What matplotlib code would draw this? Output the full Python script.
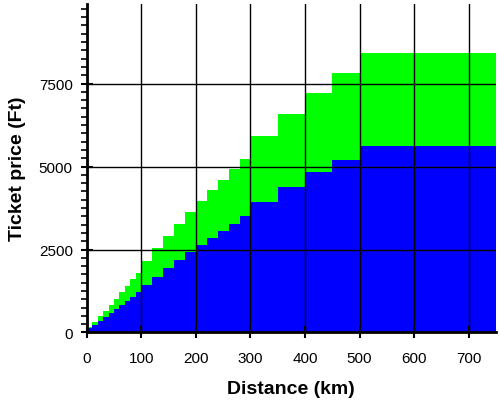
import matplotlib
matplotlib.use("Agg")
import matplotlib.pyplot as plt
from matplotlib.ticker import MultipleLocator

# Distance band edges (km)
edges = [0, 10, 20, 30, 40, 50, 60, 70, 80, 90, 100,
         120, 140, 160, 180, 200, 220, 240, 260, 280, 300,
         350, 400, 450, 500, 750]
# 1st class ticket price (Ft)
first_class = [175, 308, 489, 640, 830, 1011, 1213, 1413, 1615, 1796,
               2168, 2550, 2913, 3275, 3637, 3974, 4306, 4608, 4935, 5237,
               5911, 6595, 7215, 7833, 8436]
# 2nd class ticket price (Ft)
second_class = [127, 235, 338, 459, 580, 709, 830, 960, 1081, 1213,
                1434, 1685, 1947, 2188, 2440, 2641, 2848, 3060, 3275, 3496,
                3939, 4392, 4825, 5207, 5629]

plt.rcParams['font.family'] = ['Liberation Sans', 'DejaVu Sans']

fig = plt.figure(figsize=(5, 4.1), dpi=100)
ax = fig.add_axes([0.1734, 0.1866, 0.992 - 0.1734, 0.988 - 0.1866])

ax.stairs(first_class, edges, fill=True, color='#00FF00', baseline=0, zorder=1)
ax.stairs(second_class, edges, fill=True, color='#0000FF', baseline=0, zorder=1.1)

ax.set_xlim(0, 750)
ax.set_ylim(0, 9900)
ax.xaxis.set_major_locator(MultipleLocator(100))
ax.yaxis.set_major_locator(MultipleLocator(2500))
ax.yaxis.set_minor_locator(MultipleLocator(250))

ax.set_axisbelow(False)
ax.grid(True, which='major', color='black', linewidth=1)

for s in ['top', 'right']:
    ax.spines[s].set_visible(False)
for s in ['left', 'bottom']:
    ax.spines[s].set_linewidth(2)
    ax.spines[s].set_color('black')

ax.tick_params(axis='both', which='major', direction='inout', length=8, width=1.5,
               labelsize=11, color='black')
ax.tick_params(axis='x', which='major', pad=9)
ax.tick_params(axis='y', which='major', pad=6)
ax.tick_params(axis='y', which='minor', direction='out', length=4, width=1.2)

ax.set_xlabel('Distance (km)', fontsize=14, fontweight='bold', labelpad=11)
ax.set_ylabel('Ticket price (Ft)', fontsize=14, fontweight='bold', labelpad=9)

fig.savefig('out.png', dpi=100)
